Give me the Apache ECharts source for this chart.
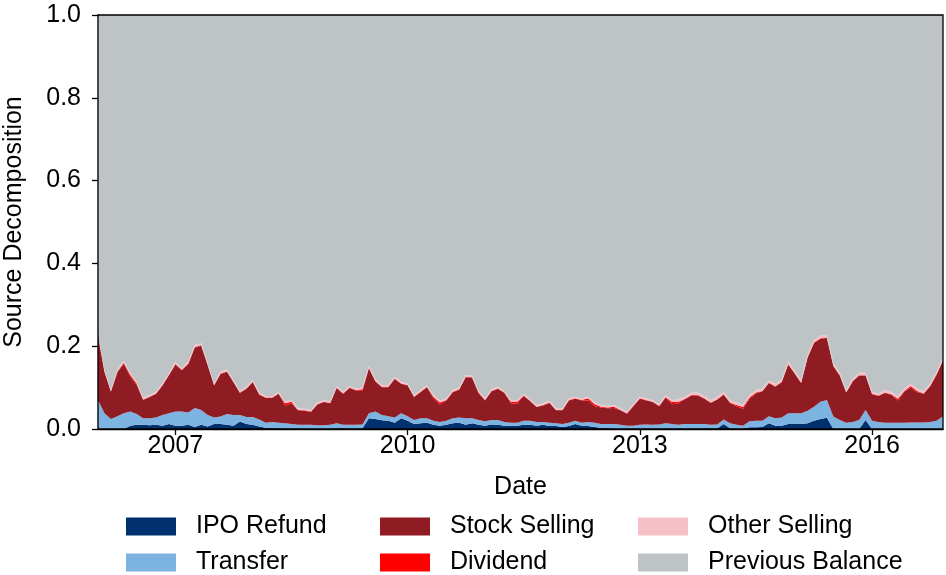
<!DOCTYPE html>
<html>
<head>
<meta charset="utf-8">
<script src="https://cdn.jsdelivr.net/npm/echarts@6/dist/echarts.min.js"></script>
<style>
html,body{margin:0;padding:0;background:#fff;}
#chart{width:946px;height:575px;}
</style>
</head>
<body>
<div id="chart"></div>
<script>
// Monthly observations, January 2006 .. December 2016
const startYear = 2006, monthCount = 132;
const tickYears = [2007, 2010, 2013, 2016];

const ipoRefund = [
  0,0,0,0,0,.008,.010,.010,.009,.010,.008,.012,.008,.008,.010,.005,.010,.006,.012,
  .012,.010,.008,.018,.012,.010,.006,.003,.002,.002,.001,.001,.001,.001,0,0,0,0,.002,
  .002,.002,.002,.002,.026,.024,.021,.020,.015,.026,.020,.012,.014,.015,.010,.008,.010,.014,.015,
  .010,.014,.010,.008,.011,.010,.008,.007,.008,.010,.010,.008,.010,.007,.007,.005,.007,.012,.008,
  .007,.005,.003,.002,.001,.001,.001,.001,.001,.001,.001,.001,.001,.001,.001,.001,.001,.001,.002,
  .002,.002,.012,.002,.001,.001,.004,.004,.005,.014,.008,.008,.012,.012,.012,.014,.020,.024,
  .027,0,0,0,0,0,.022,0,0,0,0,0,0,0,0,0,0,0,0
];
const transfer = [
  .070,.038,.024,.031,.038,.034,.026,.016,.017,.018,.026,.026,.034,.034,.030,.046,.036,.028,.016,
  .018,.026,.026,.016,.017,.019,.017,.012,.015,.013,.013,.011,.009,.009,.010,.009,.009,.010,.012,
  .008,.008,.008,.009,.012,.018,.013,.011,.013,.012,.011,.010,.012,.011,.010,.009,.010,.012,.013,
  .016,.012,.012,.011,.011,.012,.009,.008,.007,.010,.010,.009,.007,.008,.007,.007,.008,.008,.007,
  .010,.010,.009,.010,.011,.009,.007,.007,.009,.010,.009,.010,.013,.011,.009,.011,.011,.011,.010,
  .008,.009,.011,.012,.009,.007,.015,.016,.015,.017,.018,.020,.026,.026,.026,.030,.034,.042,
  .043,.030,.022,.015,.017,.022,.024,.020,.017,.015,.015,.015,.015,.016,.016,.016,.017,.020,.031
];
const stockSelling = [
  .155,.100,.066,.105,.120,.085,.070,.044,.051,.057,.071,.092,.114,.100,.117,.146,.155,.120,.077,
  .103,.102,.079,.053,.068,.084,.060,.060,.058,.070,.043,.050,.035,.034,.031,.050,.056,.052,.085,
  .075,.089,.083,.081,.109,.073,.067,.070,.093,.071,.074,.055,.063,.075,.054,.042,.049,.063,.067,
  .099,.098,.065,.050,.069,.075,.070,.047,.046,.060,.047,.036,.040,.048,.031,.033,.054,.053,.054,
  .052,.040,.040,.038,.039,.035,.029,.047,.063,.058,.055,.044,.062,.048,.052,.060,.069,.069,.061,
  .053,.060,.060,.049,.045,.041,.054,.066,.071,.080,.076,.085,.118,.096,.073,.128,.154,.152,
  .150,.122,.107,.073,.098,.107,.083,.064,.063,.072,.068,.054,.075,.084,.073,.069,.086,.111,.135
];
const dividend = [
  .001,.001,.001,.003,.002,.004,.004,.001,.001,.001,.001,.001,.001,.001,.001,.001,.001,.001,.001,
  .001,.001,.001,.001,.001,.001,.001,.001,.001,.001,.005,.004,.001,.001,.001,.001,.001,.001,.001,
  .001,.001,.001,.004,.001,.001,.001,.001,.001,.001,.001,.001,.001,.001,.004,.005,.001,.001,.001,
  .001,.001,.001,.001,.001,.001,.001,.004,.005,.001,.001,.001,.001,.001,.001,.001,.001,.001,.001,
  .005,.005,.002,.002,.003,.001,.001,.001,.001,.001,.001,.001,.001,.005,.004,.001,.001,.001,.001,
  .001,.001,.001,.001,.003,.004,.003,.002,.001,.001,.001,.001,.001,.001,.001,.001,.001,.001,
  .001,.001,.001,.001,.001,.001,.001,.001,.001,.001,.001,.004,.002,.004,.003,.001,.001,.001,.001
];
const otherSelling = [
  .004,.004,.003,.004,.005,.004,.004,.004,.004,.004,.004,.004,.005,.004,.005,.005,.005,.004,.004,
  .004,.005,.004,.004,.004,.004,.004,.004,.004,.004,.004,.004,.004,.004,.004,.004,.004,.004,.004,
  .004,.004,.004,.004,.004,.004,.004,.004,.004,.004,.004,.004,.004,.004,.004,.004,.004,.004,.004,
  .004,.004,.004,.004,.004,.004,.004,.004,.004,.004,.004,.004,.004,.004,.004,.004,.004,.004,.004,
  .004,.004,.004,.004,.004,.004,.004,.004,.004,.004,.004,.004,.005,.005,.005,.005,.006,.006,.006,
  .006,.006,.006,.006,.006,.005,.006,.006,.006,.006,.006,.006,.006,.006,.006,.006,.006,.006,
  .006,.006,.005,.005,.006,.006,.006,.005,.005,.006,.006,.005,.006,.006,.006,.006,.006,.006,.006
];
const previousBalance = [
  .770,.857,.906,.857,.835,.865,.886,.925,.918,.910,.890,.865,.838,.853,.837,.797,.793,.841,.890,
  .862,.856,.882,.908,.898,.882,.912,.920,.920,.910,.934,.930,.950,.951,.954,.936,.930,.933,.896,
  .910,.896,.902,.900,.848,.880,.894,.894,.874,.886,.890,.918,.906,.894,.918,.932,.926,.906,.900,
  .870,.871,.908,.926,.904,.898,.908,.930,.930,.915,.928,.942,.938,.932,.950,.950,.926,.922,.926,
  .922,.936,.942,.944,.942,.950,.958,.940,.922,.926,.930,.940,.918,.930,.929,.922,.912,.912,.920,
  .930,.922,.910,.930,.936,.942,.918,.906,.902,.882,.891,.880,.837,.859,.882,.821,.785,.775,
  .773,.841,.865,.906,.878,.864,.864,.910,.914,.906,.910,.922,.902,.890,.902,.908,.890,.862,.827
];

const seriesNames = ['IPO Refund','Transfer','Stock Selling','Dividend','Other Selling','Previous Balance'];
const seriesColors = ['#00306e','#7db3e0','#8f1c22','#ff0000','#f5c0c8','#bec3c6'];
const seriesValues = [ipoRefund, transfer, stockSelling, dividend, otherSelling, previousBalance];

// month categories "YYYY-MM"
const months = [];
for (let i = 0; i < monthCount; i++) {
  const y = startYear + Math.floor(i / 12), m = i % 12 + 1;
  months.push(y + '-' + (m < 10 ? '0' + m : m));
}
const tickCats = tickYears.map(y => y + '-01');
const isTick = (idx) => tickCats.indexOf(months[idx]) >= 0;

const FONT = 'Liberation Sans';
const FS = 25;

const chart = echarts.init(document.getElementById('chart'), null, {renderer: 'canvas'});
chart.setOption({
  animation: false,
  backgroundColor: '#fff',
  textStyle: {fontFamily: FONT, color: '#000'},
  grid: {left: 98, right: 3, top: 15, height: 414, containLabel: false, outerBoundsMode: 'none',
    show: true, borderColor: '#000', borderWidth: 1.3, backgroundColor: 'transparent', z: 10},
  legend: [
    {data: ['IPO Refund','Transfer']},
    {data: ['Stock Selling','Dividend']},
    {data: ['Other Selling','Previous Balance']}
  ].map((l, k) => Object.assign({
    orient: 'vertical', left: [126, 380, 638][k], top: 514, height: 61, padding: 0,
    itemWidth: 50, itemHeight: 18, itemGap: 11, icon: 'rect',
    textStyle: {fontFamily: FONT, fontSize: FS, color: '#000', lineHeight: 24, padding: [0,0,0,15]},
    selectedMode: false
  }, l)),
  xAxis: {
    type: 'category', data: months, boundaryGap: false,
    name: 'Date', nameLocation: 'middle', nameGap: 46,
    nameTextStyle: {fontFamily: FONT, fontSize: FS, color: '#000'},
    axisLine: {show: true, onZero: false, lineStyle: {color: '#000', width: 1.3}},
    axisTick: {show: true, length: 6, lineStyle: {color: '#000', width: 1.3}, interval: (i) => isTick(i)},
    axisLabel: {fontFamily: FONT, fontSize: FS, color: '#000', margin: 5, interval: (i) => isTick(i),
      formatter: v => v.slice(0, 4)},
    splitLine: {show: false}
  },
  yAxis: {
    type: 'value', min: 0, max: 1, interval: 0.2,
    name: 'Source Decomposition', nameLocation: 'middle', nameGap: 71, nameRotate: 90,
    nameTextStyle: {fontFamily: FONT, fontSize: FS, color: '#000'},
    axisLine: {show: true, lineStyle: {color: '#000', width: 1.3}},
    axisTick: {show: true, length: 6, lineStyle: {color: '#000', width: 1.3}},
    axisLabel: {fontFamily: FONT, fontSize: FS, color: '#000', margin: 17,
      formatter: v => v.toFixed(1)},
    splitLine: {show: false}
  },
  series: seriesNames.map((name, k) => ({
    name: name, type: 'line', stack: 'total',
    color: seriesColors[k],
    data: seriesValues[k],
    showSymbol: false, symbol: 'none',
    lineStyle: {width: 0},
    areaStyle: {color: seriesColors[k], opacity: 1},
    emphasis: {disabled: true},
    silent: true
  }))
});
</script>
</body>
</html>
